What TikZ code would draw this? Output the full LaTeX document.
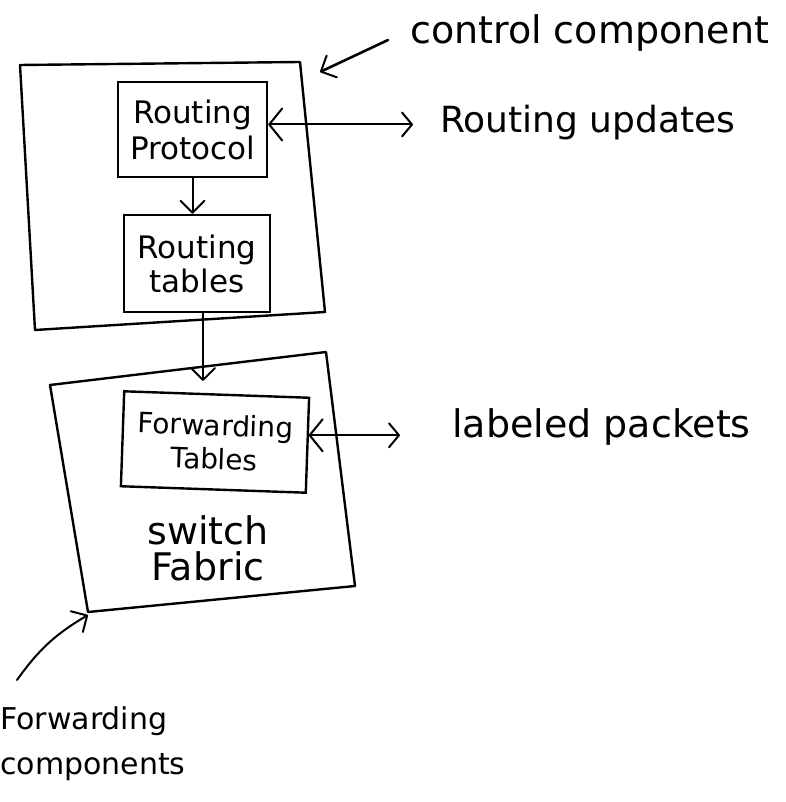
\documentclass[tikz,border=0pt]{standalone}
\usepackage{fontspec}
\setmainfont{DejaVu Sans}
\usetikzlibrary{arrows.meta}
\tikzset{
  outline/.style={line width=2.4pt, line join=round},
  inbox/.style={draw, line width=2.4pt, align=center, inner sep=0pt},
  arr/.style={line width=2pt, line cap=round, -{Straight Barb[length=12pt,width=24pt,line width=2pt,round]}},
  darr/.style={line width=2pt, line cap=round, {Straight Barb[length=13pt,width=32pt,line width=2pt,round]}-{Straight Barb[length=10pt,width=24pt,line width=2pt,round]}},
  lab/.style={inner sep=0pt, anchor=base west},
}
\begin{document}
\begin{tikzpicture}[x=1pt,y=-1pt]
\useasboundingbox (0,0) rectangle (785,802);
% outer control box
\coordinate (c1) at (20,65);
\coordinate (c2) at (300,62);
\coordinate (c3) at (325,312);
\coordinate (c4) at (35,330);
\draw[outline] (c1) -- (c2) -- (c3) -- (c4) -- cycle;
% outer forwarding box
\coordinate (f1) at (50,385);
\coordinate (f2) at (326,352);
\coordinate (f3) at (355,586);
\coordinate (f4) at (88,612);
\draw[outline] (f1) -- (f2) -- (f3) -- (f4) -- cycle;
% inner boxes
\node[inbox, minimum width=149pt, minimum height=95pt,
      font=\fontsize{31}{36}\selectfont] (rp) at (192.5,129.5) {Routing\\Protocol};
\node[inbox, minimum width=146pt, minimum height=97pt,
      font=\fontsize{31}{34}\selectfont] (rt) at (197,263.5) {Routing\\tables};
\node[inbox, minimum width=185pt, minimum height=95pt, rotate=-2,
      font=\fontsize{28}{34}\selectfont] (ft) at (215,442) {Forwarding\\Tables};
\node[align=center, inner sep=0pt, font=\fontsize{38}{36}\selectfont] (sf) at (208,548) {switch\\Fabric};
% labels
\node[lab, font=\fontsize{38}{40}\selectfont] (cc) at (410,44) {control component};
\node[lab, font=\fontsize{36}{40}\selectfont] (ru) at (440,133) {Routing updates};
\node[lab, font=\fontsize{38}{40}\selectfont] (lp) at (452,437) {labeled packets};
\node[align=left, inner sep=0pt, anchor=north west, font=\fontsize{30}{45}\selectfont] (fc) at (0,706) {Forwarding\\components};
% connector end points
\coordinate (ctip) at (320,72);
\coordinate (ccs) at (388,40);
\coordinate (ftip) at (88,615);
\coordinate (ftop) at (203,381);
\coordinate (fcs) at (17,680);
\path (rp.east) ++(0,-5) coordinate (rpe);
\coordinate (rue) at (rpe -| 413,0);
\path (ft.east) ++(0,-10) coordinate (fte);
\coordinate (lpe) at (fte -| 400,0);
% connectors
\draw[arr, line width=2.6pt] (ccs) -- (ctip);
\draw[arr] (rp.south) -- (rp.south |- rt.north);
\draw[arr] (ftop |- rt.south) -- (ftop);
\draw[darr] (rpe) -- (rue);
\draw[darr] (fte) -- (lpe);
\draw[arr] (fcs) to[bend left=12] (ftip);
\end{tikzpicture}
\end{document}
